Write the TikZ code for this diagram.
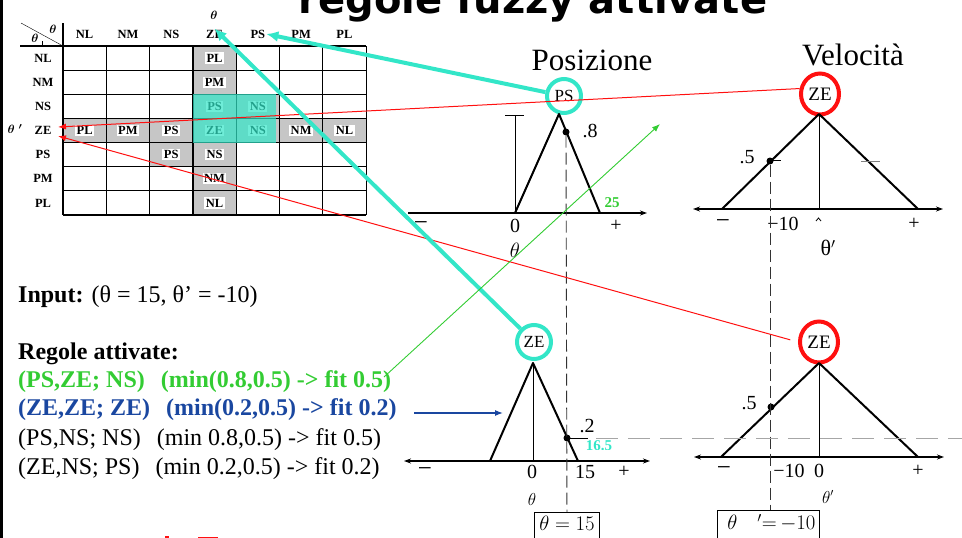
\documentclass[tikz,border=0pt]{standalone}
\usepackage{fontspec}
\setmainfont{Liberation Serif}
\newfontfamily\titlefont{DejaVu Sans}
\usepackage{tikz}
\usetikzlibrary{arrows.meta,shapes.geometric}
\definecolor{fzteal}{HTML}{33E6C8}
\definecolor{fzred}{HTML}{FF1010}
\definecolor{fzgreen}{HTML}{33CC33}
\definecolor{fzblue}{HTML}{1A47A0}
\newcommand{\fsz}[1]{\fontsize{#1}{#1}\selectfont}

\begin{document}
\begin{tikzpicture}[x=1pt,y=-1pt,
    hdr/.style={font=\fsz{12.5}\bfseries\boldmath, inner sep=1pt},
    cell/.style={font=\fsz{12.5}\bfseries, fill=white, inner sep=1.5pt},
    rulerow/.style={font=\fsz{24}, anchor=base west, inner sep=0pt},
    ax/.style={font=\fsz{20}, inner sep=0pt},
    minus/.style={font=\fsz{25}, inner sep=0pt},
    dot/.style={circle, fill=black, inner sep=0pt, minimum size=7pt},
    ring/.style={circle, draw=fzteal, line width=4pt, minimum size=34pt, inner sep=0pt, font=\fsz{17}},
    redring/.style={ellipse, draw=fzred, line width=4pt, minimum width=38pt, minimum height=41pt, inner sep=0pt, font=\fsz{19}},
    mf/.style={line width=2pt, line join=round},
    axln/.style={line width=1.1pt, >={Stealth[length=7pt,width=5pt]}},
    dashv/.style={black!80, line width=0.9pt, dash pattern=on 12pt off 5pt},
    teallink/.style={fzteal, line width=4pt, -{Latex[length=12pt,width=11pt]}},
    redlink/.style={fzred, line width=1pt, -{Latex[length=8pt,width=6pt]}}]
  \useasboundingbox (0,0) rectangle (962,538);
  \def\cw{43.3}
  \def\rh{24.14}

  % title, cut at the top
  \node[font=\titlefont\bfseries\fsz{40}, anchor=base] (title) at (533,13) {regole fuzzy attivate};
  \draw[line width=3pt] (1.5,0) -- (1.5,538);

  % rule table
  \fill[gray!45] ({63+3*\cw},46) rectangle ({63+4*\cw},215);
  \fill[gray!45] (63,{46+3*\rh}) rectangle (366,{46+4*\rh});
  \fill[gray!45] ({63+2*\cw},{46+4*\rh}) rectangle ++(\cw,\rh);
  \fill[gray!45] ({63+4*\cw},{46+2*\rh}) rectangle ++(\cw,\rh);
  \foreach \i in {1,...,7}
    \draw[line width=1.2pt] ({63+\i*\cw},46) -- ({63+\i*\cw},215);
  \foreach \j in {1,...,7}
    \draw[line width=1.2pt] (63,{46+\j*\rh}) -- (366,{46+\j*\rh});
  \draw[line width=1.2pt] (20,46) -- (366,46) (63,23) -- (63,215);
  \draw (21,23) -- (63,46);
  \draw (42,41) -- (42,47);
  \node[hdr] (thcol) at (214,15) {$\theta$};
  \node[hdr] (thtop) at (53,29) {$\theta$};
  \node[hdr] (thleft) at (35,38) {$\theta$};
  \node[hdr] (throw) at (15,129) {$\theta\;'$};
  \foreach \t [count=\i from 0] in {NL,NM,NS,ZE,PS,PM,PL} {
    \node[hdr] (col\t) at ({63+(\i+0.5)*\cw},34) {\t};
    \node[hdr] (row\t) at (43,{46+(\i+0.5)*\rh}) {\t};
  }
  \foreach \t [count=\i from 0] in {PL,PM,PS,ZE,NS,NM,NL} {
    \node[cell] (cz\i) at ({63+3.5*\cw},{46+(\i+0.5)*\rh}) {\t};
    \ifnum\i=3\else\node[cell] (rz\i) at ({63+(\i+0.5)*\cw},{46+3.5*\rh}) {\t};\fi
  }
  \node[cell] (cnsps) at ({63+4.5*\cw},{46+2.5*\rh}) {NS};
  \node[cell] (cpsns) at ({63+2.5*\cw},{46+4.5*\rh}) {PS};
  \fill[fzteal, opacity=0.7] ({63+3*\cw},{46+2*\rh}) rectangle ({63+4.93*\cw},{46+4*\rh});

  % rules
  \node[rulerow] (inp) at (18,302) {\textbf{Input:} (θ = 15, θ’ = -10)};
  \node[rulerow] (regh) at (18,359) {\textbf{Regole attivate:}};
  \node[rulerow, font=\fsz{24}\bfseries, text=fzgreen] (ruleA) at (18,387) {(PS,ZE; NS)\hspace{16pt}(min(0.8,0.5) -> fit 0.5)};
  \node[rulerow, font=\fsz{24}\bfseries, text=fzblue] (ruleB) at (18,415) {(ZE,ZE; ZE)\hspace{16pt}(min(0.2,0.5) -> fit 0.2)};
  \node[rulerow] (ruleC) at (18,445) {(PS,NS; NS)\hspace{16pt}(min 0.8,0.5) -> fit 0.5)};
  \node[rulerow] (ruleD) at (18,474) {(ZE,NS; PS)\hspace{16pt}(min 0.2,0.5) -> fit 0.2)};

  % Posizione, top
  \node[font=\fsz{31}] (posiz) at (592,60) {Posizione};
  \node[ring] (psP) at (564,96) {PS};
  \draw[axln,->] (408,213) -- (647,213);
  \draw[line width=1pt] (505,115) -- (524,115) (515,115) -- (515,213);
  \draw[mf] (515,213) -- (559,114) -- (600,213);
  \node[dot] (dotP8) at (566,132) {};
  \node[ax] (l8) at (590,131) {.8};
  \node[minus] (lma) at (421,226) {−};
  \node[ax] (l0a) at (515,226) {0};
  \node[ax] (lpa) at (616,226) {+};
  \node[ax] (tha) at (515,250) {$\theta$};
  \node[font=\fsz{15}\bfseries, text=fzgreen] (l25) at (612,203) {25};

  % Velocita, top
  \node[font=\fsz{31}] (veloc) at (853,55) {Velocità};
  \node[redring] (zeV) at (820,94) {ZE};
  \draw[axln,<->] (693,209) -- (943,209);
  \draw[line width=1pt] (819,114) -- (819,209);
  \draw[mf] (722,209) -- (819,114) -- (918,209);
  \draw[line width=0.8pt] (770,160) -- (781,160);
  \draw[gray, line width=0.8pt] (861,161) -- (880,161);
  \node[dot] (dotV5) at (770,161) {};
  \node[ax] (l5a) at (747,157) {.5};
  \node[minus] (lmb) at (723,224) {−};
  \node[ax] (l10a) at (783,224) {−10};
  \node[ax] (lpb) at (914,224) {+};
  \draw[line width=0.8pt] (816,221) -- (818.5,218) -- (821,221);
  \node[font=\fsz{22}] (thb) at (828,248) {θ$'$};

  % Posizione, bottom
  \node[ring] (zeP) at (534,342) {ZE};
  \draw[axln,<->] (404,461) -- (650,461);
  \draw[line width=1pt] (533,363) -- (533,461);
  \draw[mf] (490,461) -- (533,363) -- (578,461);
  \node[dot] (dotP2) at (567,438) {};
  \node[ax] (l2) at (587,426) {.2};
  \begin{scope}
    \clip (585,430) rectangle (640,449);
    \node[font=\fsz{15}\bfseries, text=fzteal] (l165) at (599,446) {16.5};
  \end{scope}
  \node[minus] (lmc) at (425,472) {−};
  \node[ax] (l0c) at (532,472) {0};
  \node[ax] (l15) at (585,472) {15};
  \node[ax] (lpc) at (624,472) {+};
  \node[font=\fsz{18}] (thc) at (532,499) {$\theta$};
  \node[draw, line width=0.8pt, anchor=north, inner xsep=5pt, inner ysep=4pt, text depth=14pt, font=\fsz{22}] (box15) at (567,512) {$\theta = 15$};

  % Velocita, bottom
  \node[redring] (zeVb) at (819,342) {ZE};
  \draw[axln,<->] (694,457) -- (944,457);
  \draw[line width=1pt] (819,363) -- (819,457);
  \draw[mf] (721,457) -- (819,363) -- (918,457);
  \node[dot] (dotV5b) at (771,407) {};
  \node[ax] (l5b) at (749,403) {.5};
  \node[minus] (lmd) at (724,471) {−};
  \node[ax] (l10b) at (789,471) {−10};
  \node[ax] (l0d) at (819,471) {0};
  \node[ax] (lpd) at (918,471) {+};
  \node[font=\fsz{16}] (thd) at (828,497) {$\theta'$};
  \node[draw, line width=0.8pt, anchor=north west, inner xsep=4pt, inner ysep=4pt, text depth=14pt, font=\fsz{22}] (boxm10) at (717,510) {\hspace{6pt}$\theta$\hspace{20pt}$'{=}\,{-}10$};

  % guide lines
  \draw[dashv] (dotP8) -- (box15);
  \draw[dashv] (dotV5) -- (dotV5 |- boxm10.north);
  \coordinate (hend) at (962,438);
  \draw[line width=0.9pt] (dotP2.center) -- ++(21,0) coordinate (hmid);
  \draw[gray!70, line width=0.9pt, dash pattern=on 22pt off 10pt] ([xshift=8pt]hmid) -- (hend);

  % links
  \coordinate (tipA) at (58,127);
  \coordinate (tipB) at (58,136);
  \draw[redlink] (zeV.165) -- (tipA);
  \draw[redlink, shorten <=8pt] (zeVb.west) -- (tipB);
  \draw[teallink] (psP) -- (colPS.east);
  \draw[teallink] (zeP) -- (colZE.north);
  \coordinate (gtail) at (384,377);
  \coordinate (gtip) at (660,124);
  \draw[fzgreen, line width=0.9pt, -{Latex[length=8pt,width=6pt]}] (gtail) -- (gtip);
  \coordinate (btail) at (414,413);
  \coordinate (btip) at (503,413);
  \draw[fzblue, line width=1.2pt, -{Latex[length=8pt,width=6pt]}] (btail) -- (btip);
  \fill[fzred] (165,536) rectangle (169,538);
  \fill[fzred] (198,536.5) rectangle (218,538);
\end{tikzpicture}
\end{document}
